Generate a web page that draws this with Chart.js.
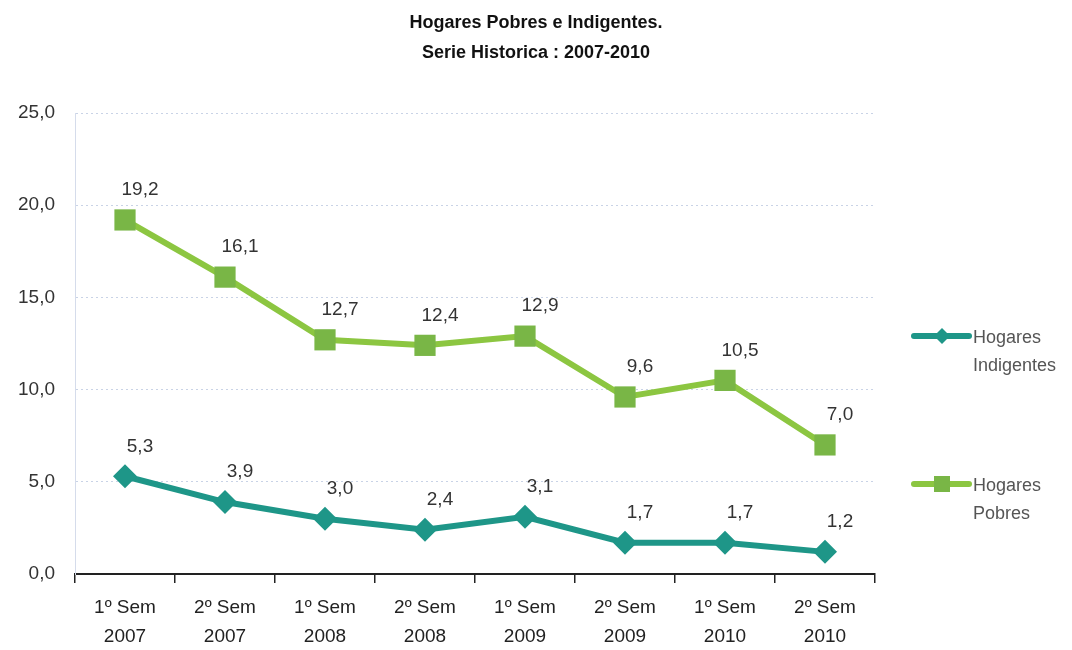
<!DOCTYPE html>
<html><head><meta charset="utf-8">
<script src="https://cdn.jsdelivr.net/npm/chart.js@4.4.0/dist/chart.umd.min.js"></script>
<style>html,body{margin:0;padding:0;background:#fff}#wrap{width:1072px;height:650px}</style>
</head><body><div id="wrap"><canvas id="c" width="1072" height="650"></canvas></div>
<script>
const categories = [["1º Sem","2007"],["2º Sem","2007"],["1º Sem","2008"],["2º Sem","2008"],["1º Sem","2009"],["2º Sem","2009"],["1º Sem","2010"],["2º Sem","2010"]];
const indigentes = [5.3, 3.9, 3.0, 2.4, 3.1, 1.7, 1.7, 1.2];
const pobres = [19.2, 16.1, 12.7, 12.4, 12.9, 9.6, 10.5, 7.0];
const yTicks = [0, 5, 10, 15, 20, 25];
const titleLines = ["Hogares Pobres e Indigentes.", "Serie Historica : 2007-2010"];
const legendItems = [["Hogares","Indigentes"],["Hogares","Pobres"]];

const TEAL = '#1e9688', GREEN = '#8cc641', GREEN_M = '#79b646';
const FONT = '"Liberation Sans", Arial, sans-serif';
const fmt = v => v.toFixed(1).replace('.', ',');

const titlePlugin = {
  id: 'customTitle',
  afterDraw(chart) {
    const ctx = chart.ctx;
    ctx.save();
    ctx.font = 'bold 18px ' + FONT;
    ctx.fillStyle = '#111';
    ctx.textAlign = 'center';
    ctx.textBaseline = 'middle';
    ctx.fillText(titleLines[0], 536, 23);
    ctx.fillText(titleLines[1], 536, 53);
    ctx.restore();
  }
};

const labelPlugin = {
  id: 'valLabels',
  afterDatasetsDraw(chart) {
    const ctx = chart.ctx;
    ctx.save();
    ctx.font = '19px ' + FONT;
    ctx.fillStyle = '#333';
    ctx.textAlign = 'center';
    ctx.textBaseline = 'middle';
    chart.data.datasets.forEach((ds, i) => {
      chart.getDatasetMeta(i).data.forEach((pt, j) => {
        ctx.fillText(fmt(ds.data[j]), pt.x + 15, pt.y - 30);
      });
    });
    ctx.restore();
  }
};

const legendPlugin = {
  id: 'customLegend',
  afterDraw(chart) {
    const ctx = chart.ctx;
    ctx.save();
    const items = [{y: 336, color: TEAL, mcolor: TEAL, shape: 'diamond', text: legendItems[0]},
                   {y: 484, color: GREEN, mcolor: GREEN_M, shape: 'square', text: legendItems[1]}];
    items.forEach(it => {
      ctx.strokeStyle = it.color; ctx.lineWidth = 6; ctx.lineCap = 'round';
      ctx.beginPath(); ctx.moveTo(914, it.y); ctx.lineTo(969, it.y); ctx.stroke();
      ctx.fillStyle = it.mcolor;
      if (it.shape === 'diamond') {
        ctx.beginPath(); ctx.moveTo(942, it.y - 8); ctx.lineTo(950, it.y); ctx.lineTo(942, it.y + 8); ctx.lineTo(934, it.y); ctx.closePath(); ctx.fill();
      } else {
        ctx.fillRect(934, it.y - 8, 16, 16);
      }
      ctx.fillStyle = '#555';
      ctx.font = '18px ' + FONT;
      ctx.textAlign = 'left'; ctx.textBaseline = 'middle';
      ctx.fillText(it.text[0], 973, it.y + 2);
      ctx.fillText(it.text[1], 973, it.y + 30);
    });
    ctx.restore();
  }
};

new Chart(document.getElementById('c'), {
  type: 'line',
  data: {
    labels: categories,
    datasets: [
      {label: 'Hogares Indigentes', data: indigentes, borderColor: TEAL, backgroundColor: TEAL,
       borderWidth: 6, pointStyle: 'rectRot', pointRadius: 12, pointBorderWidth: 0, tension: 0},
      {label: 'Hogares Pobres', data: pobres, borderColor: GREEN, backgroundColor: GREEN_M,
       borderWidth: 6, pointStyle: 'rect', pointRadius: 15, pointBorderWidth: 0, tension: 0}
    ]
  },
  options: {
    responsive: false,
    animation: false,
    layout: {padding: {left: 0, right: 197, top: 113, bottom: 0}},
    plugins: {
      legend: {display: false},
      tooltip: {enabled: false},
      title: {display: false}
    },
    scales: {
      x: {
        offset: true,
        grid: {display: true, drawOnChartArea: false, offset: true, tickLength: 9, color: '#222', lineWidth: 1.5},
        border: {display: true, color: '#222', width: 2},
        ticks: {color: '#222', padding: 10, maxRotation: 0,
          font: {family: FONT, size: 19, lineHeight: 1.55}},
        afterFit(s) { s.height = 76; }
      },
      y: {
        min: 0, max: 25,
        afterBuildTicks(s) { s.ticks = yTicks.map(v => ({value: v})); },
        grid: {color: '#c9d3e6', lineWidth: 1, drawTicks: false},
        border: {display: true, color: '#d5dceb', dash: [2, 3], width: 1},
        ticks: {color: '#333', padding: 20, callback: v => fmt(v),
          font: {family: FONT, size: 19}},
        afterFit(s) { s.width = 75; }
      }
    }
  },
  plugins: [titlePlugin, labelPlugin, legendPlugin]
});
</script></body></html>
